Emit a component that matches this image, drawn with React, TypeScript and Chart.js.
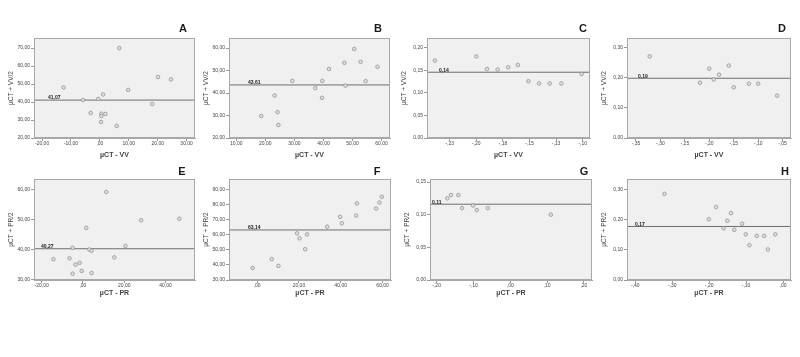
import React, { useEffect, useRef } from "react";
import { Chart, registerables } from "chart.js";
Chart.register(...registerables);

// ---------- DATA ----------
const A_X = [6.7, -12.6, 20.1, 24.6, 9.8, 1.1, -0.6, -5.8, 18.1, -3.2, 0.5, 1.9, 0.5, 0.4, 5.8];
const A_Y = [70.0, 48.1, 53.9, 52.6, 46.7, 44.2, 41.7, 41.1, 38.9, 33.9, 33.5, 33.4, 32.2, 28.9, 26.7];
const A_MEAN = 41.07;
const A_MEAN_LABEL = "41,07";
const A_X_TICKS = [-20, -10, 0, 10, 20, 30];
const A_X_LABELS = ["-20,00", "-10,00", ",00", "10,00", "20,00", "30,00"];
const A_Y_TICKS = [20, 30, 40, 50, 60, 70];
const A_Y_LABELS = ["20,00", "30,00", "40,00", "50,00", "60,00", "70,00"];

const B_X = [50.6, 47.2, 52.8, 58.6, 41.9, 29.3, 39.6, 54.5, 47.6, 37.2, 23.2, 39.5, 24.2, 18.6, 24.5];
const B_Y = [59.6, 53.5, 53.9, 51.7, 50.7, 45.4, 45.4, 45.3, 43.3, 42.2, 38.9, 37.9, 31.5, 29.8, 25.8];
const B_MEAN = 43.61;
const B_MEAN_LABEL = "43,61";
const B_X_TICKS = [10, 20, 30, 40, 50, 60];
const B_X_LABELS = ["10,00", "20,00", "30,00", "40,00", "50,00", "60,00"];
const B_Y_TICKS = [20, 30, 40, 50, 60];
const B_Y_LABELS = ["20,00", "30,00", "40,00", "50,00", "60,00"];

const C_X = [-0.239, -0.2, -0.19, -0.18, -0.17, -0.161, -0.151, -0.141, -0.131, -0.12, -0.101];
const C_Y = [0.172, 0.181, 0.153, 0.152, 0.157, 0.162, 0.126, 0.121, 0.121, 0.121, 0.142];
const C_MEAN = 0.146;
const C_MEAN_LABEL = "0,14";
const C_X_TICKS = [-0.225, -0.2, -0.175, -0.15, -0.125, -0.1];
const C_X_LABELS = ["-,23", "-,20", "-,18", "-,15", "-,13", "-,10"];
const C_Y_TICKS = [0, 0.05, 0.1, 0.15, 0.2];
const C_Y_LABELS = ["0,00", "0,05", "0,10", "0,15", "0,20"];

const D_X = [-0.322, -0.219, -0.2, -0.191, -0.18, -0.16, -0.15, -0.119, -0.1, -0.061];
const D_Y = [0.272, 0.184, 0.231, 0.195, 0.211, 0.241, 0.169, 0.181, 0.181, 0.141];
const D_MEAN = 0.199;
const D_MEAN_LABEL = "0,19";
const D_X_TICKS = [-0.35, -0.3, -0.25, -0.2, -0.15, -0.1, -0.05];
const D_X_LABELS = ["-,35", "-,30", "-,25", "-,20", "-,15", "-,10", "-,05"];
const D_Y_TICKS = [0, 0.1, 0.2, 0.3];
const D_Y_LABELS = ["0,00", "0,10", "0,20", "0,30"];

const E_X = [11.3, 28.2, 46.7, 1.6, -5.0, 20.6, 3.1, 4.2, -14.3, -6.5, 15.2, -1.6, -3.6, -0.6, -5.0, 4.2];
const E_Y = [59.1, 49.7, 50.2, 47.2, 40.6, 41.2, 40.0, 39.6, 36.8, 37.1, 37.4, 35.6, 35.0, 32.9, 32.0, 32.2];
const E_MEAN = 40.27;
const E_MEAN_LABEL = "40,27";
const E_X_TICKS = [-20, 0, 20, 40];
const E_X_LABELS = ["-20,00", ",00", "20,00", "40,00"];
const E_Y_TICKS = [30, 40, 50, 60];
const E_Y_LABELS = ["30,00", "40,00", "50,00", "60,00"];

const F_X = [59.6, 58.5, 47.7, 56.9, 39.7, 47.4, 40.5, 33.5, 19.1, 23.9, 20.3, 23.0, 7.0, 10.2, -2.1];
const F_Y = [85.1, 81.3, 80.7, 77.3, 71.8, 72.7, 67.6, 65.3, 60.9, 60.2, 57.6, 50.4, 43.8, 39.3, 38.0];
const F_MEAN = 63.14;
const F_MEAN_LABEL = "63,14";
const F_X_TICKS = [0, 20, 40, 60];
const F_X_LABELS = [",00", "20,00", "40,00", "60,00"];
const F_Y_TICKS = [30, 40, 50, 60, 70, 80, 90];
const F_Y_LABELS = ["30,00", "40,00", "50,00", "60,00", "70,00", "80,00", "90,00"];

const G_X = [-0.171, -0.161, -0.141, -0.131, -0.101, -0.091, -0.061, 0.11];
const G_Y = [0.125, 0.13, 0.13, 0.11, 0.114, 0.107, 0.11, 0.1];
const G_MEAN = 0.116;
const G_MEAN_LABEL = "0,11";
const G_X_TICKS = [-0.2, -0.1, 0, 0.1, 0.2];
const G_X_LABELS = ["-,20", "-,10", ",00", ",10", ",20"];
const G_Y_TICKS = [0, 0.05, 0.1, 0.15];
const G_Y_LABELS = ["0,00", "0,05", "0,10", "0,15"];

const H_X = [-0.321, -0.181, -0.201, -0.141, -0.151, -0.111, -0.161, -0.132, -0.101, -0.021, -0.071, -0.051, -0.091, -0.041];
const H_Y = [0.285, 0.241, 0.201, 0.221, 0.196, 0.186, 0.171, 0.166, 0.151, 0.151, 0.146, 0.146, 0.115, 0.101];
const H_MEAN = 0.177;
const H_MEAN_LABEL = "0,17";
const H_X_TICKS = [-0.4, -0.3, -0.2, -0.1, 0];
const H_X_LABELS = ["-,40", "-,30", "-,20", "-,10", ",00"];
const H_Y_TICKS = [0, 0.1, 0.2, 0.3];
const H_Y_LABELS = ["0,00", "0,10", "0,20", "0,30"];

const VV_X_TITLE = "µCT - VV";
const VV_Y_TITLE = "µCT + VV/2";
const PR_X_TITLE = "µCT - PR";
const PR_Y_TITLE = "µCT + PR/2";

// ---------- LAYOUT / STYLE ----------
const FONT = "'Liberation Sans', Arial, sans-serif";
const YW = 34;
const XH = 24;
const PAD_R = 8;

type Panel = {
  letter: string;
  xs: number[];
  ys: number[];
  mean: number;
  meanLabel: string;
  xTicks: number[];
  xLabels: string[];
  yTicks: number[];
  yLabels: string[];
  xTitle: string;
  yTitle: string;
  xMin: number;
  xMax: number;
  yMin: number;
  yMax: number;
  plotL: number;
  plotR: number;
  row: number;
  labelDx: number;
  letterDx: number;
};

const ROWS = [
  { canvasTop: 0, canvasH: 175, plotT: 38, plotB: 138, xTitlePad: 3, letterDy: 9 },
  { canvasTop: 155, canvasH: 202, plotT: 179, plotB: 280, xTitlePad: 7, letterDy: 7 },
];

const PANELS: Panel[] = [
  { letter: "A", xs: A_X, ys: A_Y, mean: A_MEAN, meanLabel: A_MEAN_LABEL, xTicks: A_X_TICKS, xLabels: A_X_LABELS, yTicks: A_Y_TICKS, yLabels: A_Y_LABELS, xTitle: VV_X_TITLE, yTitle: VV_Y_TITLE, xMin: -22.8, xMax: 32.9, yMin: 20, yMax: 75.6, plotL: 34, plotR: 195, row: 0, labelDx: 14, letterDx: 12 },
  { letter: "B", xs: B_X, ys: B_Y, mean: B_MEAN, meanLabel: B_MEAN_LABEL, xTicks: B_X_TICKS, xLabels: B_X_LABELS, yTicks: B_Y_TICKS, yLabels: B_Y_LABELS, xTitle: VV_X_TITLE, yTitle: VV_Y_TITLE, xMin: 7.5, xMax: 62.9, yMin: 20, yMax: 64.5, plotL: 229, plotR: 390, row: 0, labelDx: 19, letterDx: 12 },
  { letter: "C", xs: C_X, ys: C_Y, mean: C_MEAN, meanLabel: C_MEAN_LABEL, xTicks: C_X_TICKS, xLabels: C_X_LABELS, yTicks: C_Y_TICKS, yLabels: C_Y_LABELS, xTitle: VV_X_TITLE, yTitle: VV_Y_TITLE, xMin: -0.2464, xMax: -0.0931, yMin: 0, yMax: 0.222, plotL: 427, plotR: 590, row: 0, labelDx: 12, letterDx: 7 },
  { letter: "D", xs: D_X, ys: D_Y, mean: D_MEAN, meanLabel: D_MEAN_LABEL, xTicks: D_X_TICKS, xLabels: D_X_LABELS, yTicks: D_Y_TICKS, yLabels: D_Y_LABELS, xTitle: VV_X_TITLE, yTitle: VV_Y_TITLE, xMin: -0.3684, xMax: -0.0328, yMin: 0, yMax: 0.333, plotL: 627, plotR: 791, row: 0, labelDx: 11, letterDx: 9 },
  { letter: "E", xs: E_X, ys: E_Y, mean: E_MEAN, meanLabel: E_MEAN_LABEL, xTicks: E_X_TICKS, xLabels: E_X_LABELS, yTicks: E_Y_TICKS, yLabels: E_Y_LABELS, xTitle: PR_X_TITLE, yTitle: PR_Y_TITLE, xMin: -23.7, xMax: 54.3, yMin: 29.9, yMax: 63.4, plotL: 34, plotR: 195, row: 1, labelDx: 7, letterDx: 13 },
  { letter: "F", xs: F_X, ys: F_Y, mean: F_MEAN, meanLabel: F_MEAN_LABEL, xTicks: F_X_TICKS, xLabels: F_X_LABELS, yTicks: F_Y_TICKS, yLabels: F_Y_LABELS, xTitle: PR_X_TITLE, yTitle: PR_Y_TITLE, xMin: -13.4, xMax: 64.0, yMin: 30, yMax: 96.9, plotL: 229, plotR: 391, row: 1, labelDx: 19, letterDx: 14 },
  { letter: "G", xs: G_X, ys: G_Y, mean: G_MEAN, meanLabel: G_MEAN_LABEL, xTicks: G_X_TICKS, xLabels: G_X_LABELS, yTicks: G_Y_TICKS, yLabels: G_Y_LABELS, xTitle: PR_X_TITLE, yTitle: PR_Y_TITLE, xMin: -0.218, xMax: 0.222, yMin: 0, yMax: 0.1546, plotL: 430, plotR: 592, row: 1, labelDx: 2, letterDx: 8 },
  { letter: "H", xs: H_X, ys: H_Y, mean: H_MEAN, meanLabel: H_MEAN_LABEL, xTicks: H_X_TICKS, xLabels: H_X_LABELS, yTicks: H_Y_TICKS, yLabels: H_Y_LABELS, xTitle: PR_X_TITLE, yTitle: PR_Y_TITLE, xMin: -0.4225, xMax: 0.0216, yMin: 0, yMax: 0.334, plotL: 627, plotR: 791, row: 1, labelDx: 8, letterDx: 6 },
];

function ScatterPanel({ p }: { p: Panel }) {
  const ref = useRef<HTMLCanvasElement>(null);
  const row = ROWS[p.row];
  const left = p.plotL - YW;
  const width = p.plotR - p.plotL + YW + PAD_R;
  const padT = row.plotT - row.canvasTop;
  const padB = row.canvasH - (row.plotB - row.canvasTop) - XH;

  useEffect(() => {
    if (!ref.current) return;
    const panelPlugin = {
      id: "panelDecor",
      beforeDraw(chart: any) {
        const { ctx, chartArea } = chart;
        ctx.save();
        ctx.fillStyle = "#f0f0f0";
        ctx.fillRect(chartArea.left, chartArea.top, chartArea.right - chartArea.left, chartArea.bottom - chartArea.top);
        ctx.restore();
      },
      afterDraw(chart: any) {
        const { ctx, chartArea, scales } = chart;
        ctx.save();
        ctx.strokeStyle = "#a8a8a8";
        ctx.lineWidth = 1;
        ctx.strokeRect(chartArea.left + 0.5, chartArea.top + 0.5, chartArea.right - chartArea.left - 1, chartArea.bottom - chartArea.top - 1);
        const yPix = scales.y.getPixelForValue(p.mean);
        ctx.fillStyle = "#222";
        ctx.font = `bold 5px ${FONT}`;
        ctx.textAlign = "left";
        ctx.textBaseline = "bottom";
        ctx.fillText(p.meanLabel, chartArea.left + p.labelDx, yPix + 0.5);
        ctx.font = `bold 11px ${FONT}`;
        ctx.fillStyle = "#1a1a1a";
        ctx.textAlign = "center";
        ctx.textBaseline = "middle";
        ctx.fillText(p.letter, chartArea.right - p.letterDx, chartArea.top - row.letterDy);
        ctx.restore();
      },
    };

    const chart = new Chart(ref.current, {
      type: "scatter",
      data: {
        datasets: [
          {
            data: p.xs.map((x, i) => ({ x, y: p.ys[i] })),
            pointRadius: 1.8,
            pointHoverRadius: 1.8,
            pointBackgroundColor: "#e0e0e0",
            pointBorderColor: "#939393",
            pointBorderWidth: 0.8,
          },
          {
            data: [
              { x: p.xMin, y: p.mean },
              { x: p.xMax, y: p.mean },
            ],
            showLine: true,
            borderColor: "#6e6e6e",
            borderWidth: 1,
            pointRadius: 0,
          },
        ],
      },
      options: {
        animation: false,
        responsive: false,
        maintainAspectRatio: false,
        devicePixelRatio: 1,
        events: [],
        layout: { padding: { left: 0, right: PAD_R, top: padT, bottom: padB } },
        plugins: { legend: { display: false }, tooltip: { enabled: false }, title: { display: false } },
        scales: {
          x: {
            type: "linear",
            min: p.xMin,
            max: p.xMax,
            afterFit: (s: any) => {
              s.height = XH;
            },
            afterBuildTicks: (s: any) => {
              s.ticks = p.xTicks.map((v) => ({ value: v }));
            },
            ticks: {
              autoSkip: false,
              maxRotation: 0,
              minRotation: 0,
              padding: 0,
              color: "#444",
              font: { family: FONT, size: 5 },
              callback: (_v: any, i: number) => p.xLabels[i],
            },
            grid: { drawOnChartArea: false, drawTicks: true, tickLength: 3, color: "#999" },
            border: { display: true, color: "#a8a8a8" },
            title: {
              display: true,
              text: p.xTitle,
              color: "#444",
              font: { family: FONT, size: 7, weight: "bold" },
              padding: { top: 0, bottom: row.xTitlePad },
            },
          },
          y: {
            type: "linear",
            min: p.yMin,
            max: p.yMax,
            afterFit: (s: any) => {
              s.width = YW;
            },
            afterBuildTicks: (s: any) => {
              s.ticks = p.yTicks.map((v) => ({ value: v }));
            },
            ticks: {
              autoSkip: false,
              padding: 1,
              color: "#444",
              font: { family: FONT, size: 5 },
              callback: (_v: any, i: number) => p.yLabels[i],
            },
            grid: { drawOnChartArea: false, drawTicks: true, tickLength: 3, color: "#999" },
            border: { display: true, color: "#a8a8a8" },
            title: {
              display: true,
              text: p.yTitle,
              color: "#444",
              font: { family: FONT, size: 6.5 },
              padding: { top: 7, bottom: 0 },
            },
          },
        },
      } as any,
      plugins: [panelPlugin],
    });
    return () => chart.destroy();
  }, []);

  return (
    <canvas
      ref={ref}
      width={width}
      height={row.canvasH}
      style={{ position: "absolute", left, top: row.canvasTop, width, height: row.canvasH }}
    />
  );
}

export default function App() {
  return (
    <div
      style={{
        position: "fixed",
        left: 0,
        top: 0,
        width: 800,
        height: 357,
        background: "#fff",
        overflow: "hidden",
      }}
    >
      {PANELS.map((p) => (
        <ScatterPanel key={p.letter} p={p} />
      ))}
    </div>
  );
}
